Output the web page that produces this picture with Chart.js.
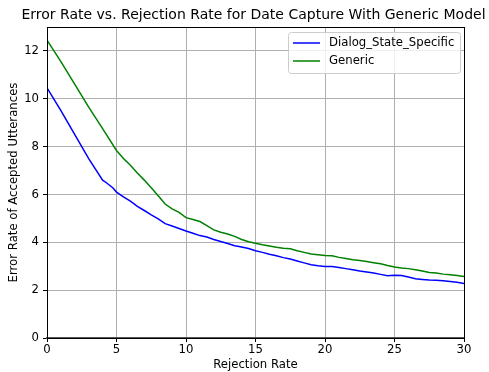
<!DOCTYPE html>
<html>
<head>
<meta charset="utf-8">
<script src="https://cdn.jsdelivr.net/npm/chart.js@4/dist/chart.umd.min.js"></script>
<style>
  html, body { margin: 0; padding: 0; background: #fff; }
  #wrap { width: 489px; height: 372px; }
</style>
</head>
<body>
<div id="wrap"><canvas id="chart" width="489" height="372"></canvas></div>
<script>
// Rejection rate sample points (x) and error rates
const xSpecific = [0, 1, 2, 3, 4, 4.25, 4.75, 5, 5.5, 6, 6.5, 7, 7.5, 8, 8.5, 9, 9.5, 10, 10.5, 11, 11.5, 12, 12.5, 13, 13.5, 14, 14.5, 15, 15.5, 16, 16.5, 17, 17.5, 18, 18.5, 19, 19.5, 20, 20.5, 21, 21.5, 22, 22.5, 23, 23.5, 24, 24.5, 25, 25.5, 26, 26.5, 27, 27.5, 28, 28.5, 29, 29.5, 30];
const ySpecific = [10.46, 9.5, 8.5, 7.5, 6.6, 6.5, 6.27, 6.1, 5.9, 5.72, 5.5, 5.33, 5.15, 4.98, 4.78, 4.68, 4.58, 4.47, 4.38, 4.28, 4.22, 4.12, 4.03, 3.95, 3.86, 3.8, 3.74, 3.65, 3.58, 3.5, 3.44, 3.36, 3.3, 3.22, 3.14, 3.06, 3.02, 2.99, 2.99, 2.95, 2.9, 2.85, 2.8, 2.76, 2.72, 2.66, 2.6, 2.62, 2.61, 2.55, 2.48, 2.45, 2.42, 2.41, 2.39, 2.36, 2.33, 2.28];

const xGeneric = [0, 1, 2, 3, 4, 5, 5.5, 6, 6.5, 7, 7.5, 8, 8.5, 9, 9.5, 10, 10.5, 11, 11.5, 12, 12.5, 13, 13.5, 14, 14.5, 15, 15.5, 16, 16.5, 17, 17.5, 18, 18.5, 19, 19.5, 20, 20.5, 21, 21.5, 22, 22.5, 23, 23.5, 24, 24.5, 25, 25.5, 26, 26.5, 27, 27.5, 28, 28.5, 29, 29.5, 30];
const yGeneric = [12.45, 11.55, 10.6, 9.65, 8.75, 7.84, 7.5, 7.22, 6.9, 6.6, 6.28, 5.95, 5.6, 5.4, 5.25, 5.03, 4.95, 4.87, 4.7, 4.52, 4.42, 4.35, 4.25, 4.12, 4.02, 3.96, 3.9, 3.85, 3.79, 3.75, 3.73, 3.65, 3.58, 3.51, 3.48, 3.45, 3.44, 3.37, 3.32, 3.27, 3.24, 3.2, 3.15, 3.1, 3.03, 2.97, 2.93, 2.9, 2.85, 2.8, 2.74, 2.72, 2.67, 2.64, 2.61, 2.57];

const yTicks = [0, 2, 4, 6, 8, 10, 12];
const seriesNames = ['Dialog_State_Specific', 'Generic'];
const seriesColors = ['#0000ff', '#008000'];
const chartTitle = 'Error Rate vs. Rejection Rate for Date Capture With Generic Model';

const FONT = 'DejaVu Sans';
const SMALL = 11.7;

function toPoints(xs, ys) {
  return xs.map((x, i) => ({ x: x, y: ys[i] }));
}

// title over the plot, frame around it, matplotlib-like legend box
const framePlugin = {
  id: 'frame',
  afterDraw(chart) {
    const ctx = chart.ctx;
    const a = chart.chartArea;
    ctx.save();

    ctx.fillStyle = '#000';
    ctx.font = '14px "' + FONT + '"';
    ctx.textAlign = 'center';
    ctx.textBaseline = 'middle';
    ctx.fillText(chartTitle, (a.left + a.right) / 2 - 2, 15);

    ctx.strokeStyle = '#000';
    ctx.lineWidth = 1;
    ctx.strokeRect(Math.round(a.left) + 0.5, Math.round(a.top) + 0.5,
      Math.round(a.right - a.left), Math.round(a.bottom - a.top));

    // legend
    const bx = a.right - 176, by = a.top + 5, bw = 172, bh = 41;
    ctx.fillStyle = 'rgba(255,255,255,0.8)';
    ctx.strokeStyle = '#cccccc';
    ctx.beginPath();
    ctx.roundRect(bx + 0.5, by + 0.5, bw, bh, 3);
    ctx.fill();
    ctx.stroke();
    ctx.font = SMALL + 'px "' + FONT + '"';
    ctx.textAlign = 'left';
    seriesNames.forEach((name, i) => {
      const y = by + 11 + i * 18;
      ctx.strokeStyle = seriesColors[i];
      ctx.lineWidth = 1.5;
      ctx.beginPath();
      ctx.moveTo(bx + 5, y);
      ctx.lineTo(bx + 32, y);
      ctx.stroke();
      ctx.fillStyle = '#000';
      ctx.fillText(name, bx + 41, y);
    });
    ctx.restore();
  }
};

new Chart(document.getElementById('chart'), {
  type: 'line',
  data: {
    datasets: [
      {
        label: seriesNames[0],
        data: toPoints(xSpecific, ySpecific),
        borderColor: seriesColors[0],
        borderWidth: 1.5,
        pointRadius: 0,
        tension: 0
      },
      {
        label: seriesNames[1],
        data: toPoints(xGeneric, yGeneric),
        borderColor: seriesColors[1],
        borderWidth: 1.5,
        pointRadius: 0,
        tension: 0
      }
    ]
  },
  options: {
    responsive: false,
    animation: false,
    layout: { padding: { left: 0, right: 25, top: 27, bottom: 0 } },
    plugins: {
      legend: { display: false },
      tooltip: { enabled: false },
      title: { display: false }
    },
    scales: {
      x: {
        type: 'linear',
        min: 0,
        max: 30,
        afterFit: scale => { scale.height = 34; },
        ticks: {
          stepSize: 5,
          color: '#000',
          padding: 1,
          maxRotation: 0,
          font: { family: FONT, size: SMALL }
        },
        grid: { color: '#b0b0b0', tickColor: '#000', tickLength: 4 },
        border: { display: true, color: '#555', width: 2 },
        title: {
          display: true,
          text: 'Rejection Rate',
          color: '#000',
          padding: { top: 0, bottom: 0 },
          font: { family: FONT, size: SMALL }
        }
      },
      y: {
        min: 0,
        max: 13,
        afterFit: scale => { scale.width = 47; },
        afterBuildTicks: scale => {
          scale.ticks = yTicks.map(v => ({ value: v }));
        },
        ticks: {
          color: '#000',
          padding: 4,
          font: { family: FONT, size: SMALL }
        },
        grid: { color: '#b0b0b0', tickColor: '#000', tickLength: 4 },
        border: { display: true, color: '#000' },
        title: {
          display: true,
          text: 'Error Rate of Accepted Utterances',
          color: '#000',
          padding: { top: 7, bottom: 0 },
          font: { family: FONT, size: SMALL }
        }
      }
    }
  },
  plugins: [framePlugin]
});
</script>
</body>
</html>
